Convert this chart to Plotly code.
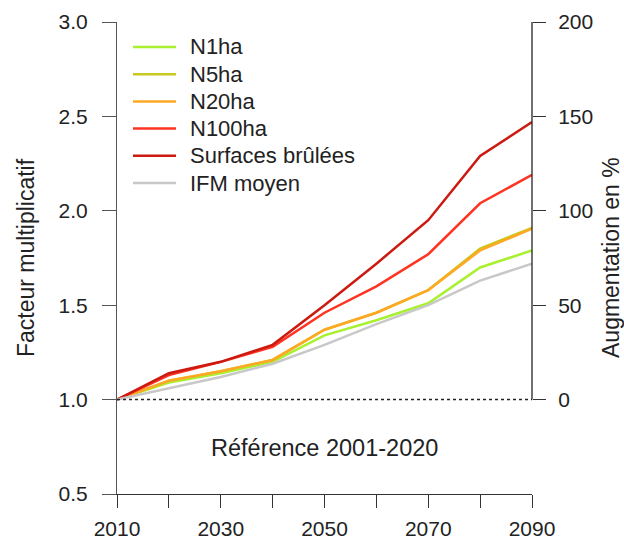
import plotly.graph_objects as go

years = [2010, 2020, 2030, 2040, 2050, 2060, 2070, 2080, 2090]

n1ha = [1.0, 1.09, 1.14, 1.20, 1.34, 1.42, 1.51, 1.70, 1.79]
n5ha = [1.0, 1.10, 1.15, 1.21, 1.37, 1.46, 1.58, 1.80, 1.91]
n20ha = [1.0, 1.10, 1.15, 1.21, 1.37, 1.46, 1.58, 1.79, 1.905]
n100ha = [1.0, 1.13, 1.20, 1.28, 1.46, 1.60, 1.77, 2.04, 2.19]
surfaces = [1.0, 1.14, 1.20, 1.29, 1.50, 1.72, 1.95, 2.29, 2.47]
ifm = [1.0, 1.06, 1.12, 1.19, 1.29, 1.40, 1.50, 1.63, 1.72]

series_names = ["N1ha", "N5ha", "N20ha", "N100ha", "Surfaces brûlées", "IFM moyen"]
series_values = [n1ha, n5ha, n20ha, n100ha, surfaces, ifm]
series_colors = ["#A8F030", "#C8C81E", "#FFA826", "#FF3322", "#CC1A10", "#C8C8C8"]

x_tickvals = [2010, 2020, 2030, 2040, 2050, 2060, 2070, 2080, 2090]
x_ticktext = ["2010", "", "2030", "", "2050", "", "2070", "", "2090"]
left_ticks = [0.5, 1.0, 1.5, 2.0, 2.5, 3.0]
right_ticks = [0, 50, 100, 150, 200]

FONT = "Liberation Sans, Arial, sans-serif"
TXT = "#222222"

# plot area in pixels, used to place the hand-drawn legend
W, H = 624, 545
ML, MR, MT, MB = 117, 92, 22, 51
PW, PH = W - ML - MR, H - MT - MB


def px_x(px):
    return (px - ML) / PW


def px_y(py):
    return (H - MB - py) / PH


fig = go.Figure()
for name, vals, col in zip(series_names, series_values, series_colors):
    fig.add_trace(go.Scatter(x=years, y=vals, mode="lines", name=name,
                             showlegend=False,
                             line=dict(color=col, width=2.5)))

# invisible trace carrying the percentage axis
fig.add_trace(go.Scatter(x=[years[0]], y=[0], yaxis="y2", mode="lines",
                         showlegend=False, hoverinfo="skip",
                         line=dict(color="rgba(0,0,0,0)")))

# dotted reference level
fig.add_shape(type="line", xref="x", yref="y", x0=years[0], x1=years[-1],
              y0=1.0, y1=1.0, line=dict(color="#222222", width=1.5, dash="dot"))
# right axis line, spanning 0-200 %
fig.add_shape(type="line", xref="paper", yref="y2", x0=1, x1=1, y0=0, y1=200,
              line=dict(color="#111111", width=1.2))

# legend: short line sample + label per series
row0, row_gap = 47, 27.2
for i, (name, col) in enumerate(zip(series_names, series_colors)):
    ry = row0 + i * row_gap
    fig.add_shape(type="line", xref="paper", yref="paper",
                  x0=px_x(133), x1=px_x(176), y0=px_y(ry), y1=px_y(ry),
                  line=dict(color=col, width=2.5))
    fig.add_annotation(text=name, xref="paper", yref="paper",
                       x=px_x(188), y=px_y(ry), xanchor="left",
                       yanchor="middle", showarrow=False,
                       font=dict(family=FONT, size=22, color=TXT))

fig.add_annotation(text="Référence 2001-2020", xref="x", yref="y",
                   x=2050, y=0.745, showarrow=False,
                   font=dict(family=FONT, size=23.5, color=TXT))
fig.add_annotation(text="Facteur multiplicatif", xref="paper", yref="paper",
                   x=px_x(26), y=0.5, textangle=-90, showarrow=False,
                   xanchor="center", yanchor="middle",
                   font=dict(family=FONT, size=23, color=TXT))
fig.add_annotation(text="Augmentation en %", xref="paper", yref="paper",
                   x=px_x(611), y=0.5, textangle=-90, showarrow=False,
                   xanchor="center", yanchor="middle",
                   font=dict(family=FONT, size=23, color=TXT))

fig.update_layout(
    width=W, height=H,
    margin=dict(l=ML, r=MR, t=MT, b=MB, autoexpand=False),
    paper_bgcolor="white", plot_bgcolor="white",
    font=dict(family=FONT, size=21, color=TXT),
    showlegend=False,
    xaxis=dict(range=[2010, 2090], tickvals=x_tickvals, ticktext=x_ticktext,
               showgrid=False, zeroline=False, showline=True,
               linecolor="#333333", linewidth=1.2, ticks="outside",
               ticklen=13, tickcolor="#333333", tickwidth=1.2,
               ticklabelstandoff=3, tickfont=dict(size=21), automargin=False),
    yaxis=dict(range=[0.5, 3.0], tickvals=left_ticks,
               tickformat=".1f", showgrid=False, zeroline=False,
               showline=True, linecolor="#555555", linewidth=1.2,
               ticks="outside", ticklen=14, tickcolor="#555555",
               tickwidth=1.2, ticklabelstandoff=10, tickfont=dict(size=21),
               automargin=False),
    yaxis2=dict(range=[-50, 200], tickvals=right_ticks, overlaying="y",
                side="right", showgrid=False, zeroline=False, showline=False,
                ticks="outside", ticklen=13, tickcolor="#333333",
                tickwidth=1.2, ticklabelstandoff=8, tickfont=dict(size=21),
                automargin=False),
)

fig.write_html("out.html")
